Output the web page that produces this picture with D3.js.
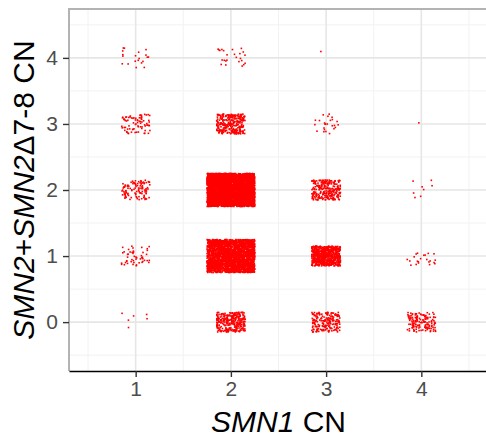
<!DOCTYPE html>
<html>
<head>
<meta charset="utf-8">
<style>
  body { margin: 0; background: #fff; }
  svg text { font-family: "Liberation Sans", Arial, sans-serif; }
</style>
</head>
<body>
<svg width="486" height="437"></svg>
<script src="https://cdn.jsdelivr.net/npm/d3@7/dist/d3.min.js"></script>
<script>
// SMN1 copy number (x) vs SMN2+SMN2d7-8 copy number (y), count of samples per cell
var smn1 = [1, 2, 3, 4];
var smn2 = [0, 1, 2, 3, 4];
// counts[i][j] -> smn1[i], smn2[j]
var counts = [
  [6, 50, 110, 80, 20],
  [300, 2600, 4200, 300, 25],
  [200, 700, 260, 25, 1],
  [150, 22, 8, 1, 0]
];
var xTicks = [1, 2, 3, 4];
var yTicks = [0, 1, 2, 3, 4];

var margin = { top: 9, right: -2, bottom: 66, left: 69 };
var svg = d3.select("svg"),
    width = +svg.attr("width") - margin.left - margin.right,
    height = +svg.attr("height") - margin.top - margin.bottom;

var x = d3.scaleLinear().domain([0.3, 4.7]).range([0, width]);
var y = d3.scaleLinear().domain([-0.74, 4.74]).range([height, 0]);

var g = svg.append("g").attr("transform", "translate(" + margin.left + "," + margin.top + ")");

// minor grid
var minorX = d3.range(0.5, 5, 1), minorY = d3.range(-0.5, 5, 1);
g.selectAll(".mgx").data(minorX).enter().append("line")
  .attr("x1", d => x(d)).attr("x2", d => x(d)).attr("y1", 0).attr("y2", height)
  .attr("stroke", "#F2F2F2").attr("stroke-width", 1);
g.selectAll(".mgy").data(minorY).enter().append("line")
  .attr("y1", d => y(d)).attr("y2", d => y(d)).attr("x1", 0).attr("x2", width)
  .attr("stroke", "#F2F2F2").attr("stroke-width", 1);
// major grid
g.selectAll(".gx").data(xTicks).enter().append("line")
  .attr("x1", d => x(d)).attr("x2", d => x(d)).attr("y1", 0).attr("y2", height)
  .attr("stroke", "#E6E6E6").attr("stroke-width", 1.6);
g.selectAll(".gy").data(yTicks).enter().append("line")
  .attr("y1", d => y(d)).attr("y2", d => y(d)).attr("x1", 0).attr("x2", width)
  .attr("stroke", "#E6E6E6").attr("stroke-width", 1.6);

// jittered points (seeded so the picture is stable)
var rnd = d3.randomUniform.source(d3.randomLcg(0.4217))(-1, 1);
var pts = [];
counts.forEach(function (row, i) {
  row.forEach(function (n, j) {
    var w = n >= 1000 ? 0.25 : 0.15;
    for (var k = 0; k < n; k++) {
      pts.push({ x: smn1[i] + rnd() * w, y: smn2[j] + rnd() * w });
    }
  });
});
g.append("g").selectAll("rect").data(pts).enter().append("rect")
  .attr("x", d => x(d.x) - 0.8).attr("y", d => y(d.y) - 0.8)
  .attr("width", 1.6).attr("height", 1.6)
  .attr("fill", "#FF0000");

// panel border (left/top) and black x axis line
g.append("path").attr("d", "M0," + height + "V0H" + width)
  .attr("fill", "none").attr("stroke", "#B3B3B3").attr("stroke-width", 2);

var xAxis = g.append("g").attr("transform", "translate(0," + height + ")")
  .call(d3.axisBottom(x).tickValues(xTicks).tickFormat(d3.format("d"))
    .tickSize(6).tickPadding(4).tickSizeOuter(0));
xAxis.select(".domain").attr("stroke", "#000").attr("stroke-width", 1.6);
xAxis.selectAll(".tick line").attr("stroke", "#333").attr("stroke-width", 1.4);
xAxis.selectAll("text").attr("fill", "#4D4D4D").style("font-size", "21px");

var yAxis = g.append("g")
  .call(d3.axisLeft(y).tickValues(yTicks).tickFormat(d3.format("d"))
    .tickSize(6).tickPadding(5).tickSizeOuter(0));
yAxis.select(".domain").remove();
yAxis.selectAll(".tick line").attr("stroke", "#333").attr("stroke-width", 1.4);
yAxis.selectAll("text").attr("fill", "#4D4D4D").style("font-size", "21px");

// axis titles
var xt = svg.append("text")
  .attr("x", margin.left + width / 2).attr("y", 432)
  .attr("text-anchor", "middle").style("font-size", "30px").attr("fill", "#000");
xt.append("tspan").style("font-style", "italic").text("SMN1");
xt.append("tspan").text(" CN");

var yt = svg.append("text")
  .attr("transform", "translate(34," + (margin.top + height / 2) + ") rotate(-90)")
  .attr("text-anchor", "middle").style("font-size", "30px").attr("fill", "#000");
yt.append("tspan").style("font-style", "italic").text("SMN2");
yt.append("tspan").text("+");
yt.append("tspan").style("font-style", "italic").text("SMN2");
yt.append("tspan").text("\u03947-8 CN");
</script>
</body>
</html>
